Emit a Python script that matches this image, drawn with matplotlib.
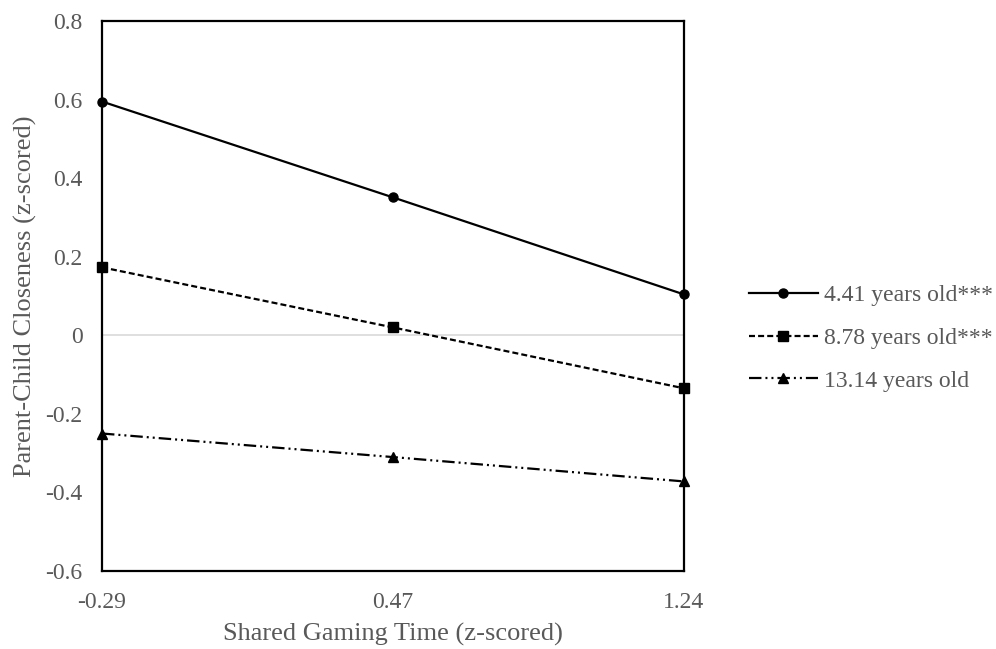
import matplotlib
matplotlib.use("Agg")
import matplotlib.pyplot as plt

categories = ["-0.29", "0.47", "1.24"]
series_names = ["4.41 years old***", "8.78 years old***", "13.14 years old"]
s1 = [0.595, 0.351, 0.104]
s2 = [0.173, 0.020, -0.135]
s3 = [-0.250, -0.310, -0.372]
yticks = [-0.6, -0.4, -0.2, 0, 0.2, 0.4, 0.6, 0.8]
ytick_labels = ["-0.6", "-0.4", "-0.2", "0", "0.2", "0.4", "0.6", "0.8"]

plt.rcParams['font.family'] = ['Liberation Serif', 'DejaVu Serif']
grey = '#595959'

fig = plt.figure(figsize=(9.96, 6.49), dpi=100)
ax = fig.add_axes([102/996, 1-571/649, (684-102)/996, (571-21)/649])

x = list(range(len(categories)))
ax.axhline(0, color='#d9d9d9', lw=1.2, zorder=1)
ax.plot(x, s1, color='black', lw=1.6, ls='-', marker='o', ms=6.5, label=series_names[0], zorder=3, clip_on=False)
ax.plot(x, s2, color='black', lw=1.6, ls=(0, (2.7, 1.4)), marker='s', ms=6.5, label=series_names[1], zorder=3, clip_on=False)
ax.plot(x, s3, color='black', lw=1.6, ls=(0, (5.6, 1.8, 0.9, 1.8, 0.9, 1.8)), marker='^', ms=6.5, label=series_names[2], zorder=3, clip_on=False)

ax.set_xlim(0, 2)
ax.set_ylim(-0.6, 0.8)
ax.set_xticks(x)
ax.set_xticklabels(categories)
ax.set_yticks(yticks)
ax.set_yticklabels(ytick_labels)
ax.tick_params(axis='y', length=0, labelsize=17, labelcolor=grey, pad=14)
ax.tick_params(axis='x', length=0, labelsize=17, labelcolor=grey, pad=15)
for sp in ax.spines.values():
    sp.set_color('black')
    sp.set_linewidth(1.6)

ax.set_xlabel("Shared Gaming Time (z-scored)", fontsize=19, color=grey, labelpad=7)
ax.set_ylabel("Parent-Child Closeness (z-scored)", fontsize=19, color=grey, labelpad=6)

leg = fig.legend(loc='center left', bbox_to_anchor=(728/996, 1-338/649), frameon=False,
                 fontsize=17, handlelength=2.9, labelspacing=0.9, handletextpad=0.25)
for t in leg.get_texts():
    t.set_color(grey)

fig.savefig("out.png", dpi=100)
